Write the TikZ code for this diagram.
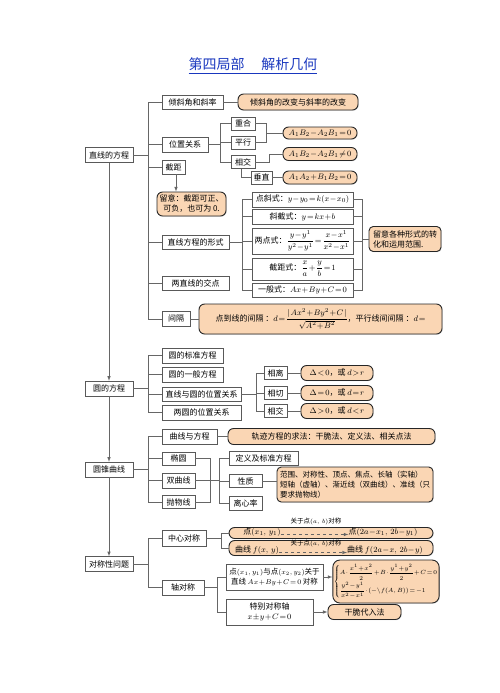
\documentclass[tikz,border=0pt]{standalone}
\usepackage{fontspec}
\setmainfont{Noto Sans CJK SC}
\usepackage{amsmath}
\usepackage{tikz}
\usetikzlibrary{positioning,shadows,arrows}
\definecolor{peach}{RGB}{250,214,180}
\definecolor{titleblue}{RGB}{25,55,190}
\newcommand{\boxfont}{\fontsize{8}{10}\selectfont}
\newcommand{\notefont}{\fontsize{7.5}{10.3}\selectfont}
\newcommand{\tinyfont}{\fontsize{6.5}{8}\selectfont}
\AtBeginDocument{\medmuskip=1mu plus 1mu\thickmuskip=2mu plus 1mu}

\begin{document}
\begin{tikzpicture}[x=1pt, y=-1pt,
	box/.style={rectangle, draw=black!65, fill=white, drop shadow={shadow xshift=.7pt, shadow yshift=-.7pt, opacity=.35},
		inner xsep=2pt, inner ysep=1pt, minimum height=14pt, text centered, font=\boxfont},
	col/.style={box, minimum width=48pt, minimum height=15pt},
	note/.style={rectangle, rounded corners=2mm, draw=black!85, line width=.9pt, fill=peach, drop shadow={shadow xshift=.7pt, shadow yshift=-.7pt, opacity=.35},
		inner xsep=2pt, inner ysep=1pt, minimum height=14pt, text centered, font=\boxfont},
	link/.style={draw=black!60, line width=.6pt},
	arr/.style={link, -latex},
	]
	\useasboundingbox (0,0) rectangle (500,693);
	\node (t) at (253,66) [text=titleblue, font=\fontsize{14}{16}\selectfont] {\underline{第四局部\hspace{1.2em}解析几何}};

	% main column
	\node (a) at (109,155) [col] {直线的方程};
	\node (b) at (109,388.5) [col] {圆的方程};
	\node (c) at (109,469.5) [col] {圆锥曲线};
	\node (d) at (109,564) [col] {对称性问题};
	\draw[arr] (a) -- (b);
	\draw[arr] (b) -- (c);
	\draw[arr] (c) -- (d);
	\coordinate (s1) at (148,0);

	% line equations
	\node (a1) at (192.5,102) [box, minimum width=61pt] {倾斜角和斜率};
	\node (a2) at (185,144.5) [box, minimum width=46pt, minimum height=15pt] {位置关系};
	\node (a3) at (173.5,167) [box, minimum width=23pt] {截距};
	\node (a4) at (195.5,242) [box, minimum width=67pt] {直线方程的形式};
	\node (a5) at (195.5,283) [box, minimum width=67pt] {两直线的交点};
	\node (a6) at (176,319) [box, minimum width=28pt, minimum height=15pt] {间隔};
	\draw[link] (a) -- (a -| s1);
	\draw[link] (a1.west) -| (s1 |- a6.west) -- (a6.west);
	\foreach \k in {2,...,5} \draw[link] (s1 |- a\k.west) -- (a\k.west);

	\node (a1n) at (298,102) [note, minimum width=120pt, minimum height=16pt] {倾斜角的改变与斜率的改变};
	\draw[link] (a1) -- (a1n);
	\node (a3n) at (191.5,204) [note, minimum width=69pt, minimum height=24pt, align=center, inner xsep=1pt] {留意：截距可正、\\可负，也可为 0.};
	\draw[arr] ([xshift=2.5pt]a3.south) -- ([xshift=2.5pt]a3.south |- a3n.north);
	\node (a6n) at (320.5,319) [note, minimum width=243pt, minimum height=30pt]
		{点到线的间隔 ：$d=\dfrac{|\;Ax^2+By^2+C\;|}{\sqrt{A^2+B^2}}$，平行线间间隔 ：$d=$};
	\draw[link] (a6) -- (a6n);

	% position
	\node (a21) at (243,123.5) [box, minimum width=24pt, minimum height=13pt] {重合};
	\node (a22) at (243,142.5) [box, minimum width=24pt, minimum height=13pt] {平行};
	\node (a23) at (243,162) [box, minimum width=24pt, minimum height=13pt] {相交};
	\node (a24) at (261.5,177.5) [box, minimum width=21pt, minimum height=13pt] {垂直};
	\coordinate (s2) at (220,0);
	\coordinate (s3) at (266,0);
	\coordinate (s4) at (269,0);
	\draw[link] (a2) -- (a2 -| s2);
	\draw[link] (a21.west) -| (s2 |- a23.west) -- (a23.west);
	\draw[link] (s2 |- a22.west) -- (a22.west);
	\node (e1) at (320,133) [note, minimum width=74pt, minimum height=12pt] {$A_1B_2-A_2B_1=0$};
	\node (e2) at (320,154) [note, minimum width=74pt, minimum height=13pt] {$A_1B_2-A_2B_1\neq0$};
	\node (e3) at (320,177.5) [note, minimum width=74pt, minimum height=13pt] {$A_1A_2+B_1B_2=0$};
	\draw[link] (a21.east) -| (s3 |- a22.east) -- (a22.east);
	\draw[link] (s3 |- e1) -- (e1.west);
	\draw[link] (a23.east) -| (s4 |- e2.west) -- (e2.west);
	\draw[link] ([xshift=-2pt]a23.south) |- (a24.west);
	\draw[link] (a24) -- (e3);

	% forms
	\node (f1) at (302.5,199.5) [box, minimum width=101pt, minimum height=15pt] {点斜式：$y-y_0=k(x-x_0)$};
	\node (f2) at (302.5,216.5) [box, minimum width=101pt, minimum height=15pt] {斜截式：$y=kx+b$};
	\node (f3) at (302.5,241) [box, minimum width=101pt, minimum height=26pt] {两点式：$\dfrac{y-y^1}{y^2-y^1}=\dfrac{x-x^1}{x^2-x^1}$};
	\node (f4) at (302.5,269) [box, minimum width=101pt, minimum height=22pt] {截距式：$\dfrac{x}{a}+\dfrac{y}{b}=1$};
	\node (f5) at (302.5,290) [box, minimum width=101pt, minimum height=14pt] {一般式：$Ax+By+C=0$};
	\coordinate (s5) at (242,0);
	\coordinate (s6) at (362,0);
	\draw[link] (a4) -- (a4 -| s5);
	\draw[link] (f1.west) -| (s5 |- f5.west) -- (f5.west);
	\draw[link] (f1.east) -| (s6 |- f5.east) -- (f5.east);
	\foreach \k in {2,3,4} {
		\draw[link] (s5 |- f\k.west) -- (f\k.west);
		\draw[link] (s6 |- f\k.east) -- (f\k.east);
	}
	\node (fn) at (405,239) [note, minimum width=72pt, minimum height=25pt, align=left, inner xsep=1pt, rounded corners=1.5mm] {留意各种形式的转\\化和运用范围.};
	\draw[link] (s6 |- fn) -- (fn.west);

	% circles
	\node (b1) at (192.5,355.5) [box, minimum width=61pt, minimum height=15pt] {圆的标准方程};
	\node (b2) at (192.5,374.5) [box, minimum width=61pt, minimum height=15pt] {圆的一般方程};
	\node (b3) at (201.5,394) [box, minimum width=79pt] {直线与圆的位置关系};
	\node (b4) at (201.5,412.5) [box, minimum width=79pt, minimum height=15pt] {两圆的位置关系};
	\draw[link] (b) -- (b -| s1);
	\draw[link] (b1.west) -| (s1 |- b4.west) -- (b4.west);
	\foreach \k in {2,3} \draw[link] (s1 |- b\k.west) -- (b\k.west);
	\node (b31) at (275.5,373) [box, minimum width=23pt, minimum height=13pt] {相离};
	\node (b32) at (275.5,393) [box, minimum width=23pt, minimum height=13pt] {相切};
	\node (b33) at (275.5,411) [box, minimum width=23pt, minimum height=13pt] {相交};
	\coordinate (s7) at (256,0);
	\draw[link] (b3) -- (b3 -| s7);
	\draw[link] (b31.west) -| (s7 |- b33.west) -- (b33.west);
	\draw[link] (s7 |- b32.west) -- (b32.west);
	\node (g1) at (337,373) [note, minimum width=72pt, minimum height=15pt] {$\Delta<0$，或 $d>r$};
	\node (g2) at (337,393) [note, minimum width=72pt, minimum height=15pt] {$\Delta=0$，或 $d=r$};
	\node (g3) at (337,411) [note, minimum width=72pt, minimum height=15pt] {$\Delta>0$，或 $d<r$};
	\foreach \k in {1,2,3} \draw[link] (b3\k) -- (g\k);

	% conics
	\node (c1) at (189.5,436.5) [box, minimum width=55pt, minimum height=15pt] {曲线与方程};
	\node (c2) at (178.5,458.5) [box, minimum width=33pt, minimum height=13pt] {椭圆};
	\node (c3) at (178.5,480.5) [box, minimum width=33pt, minimum height=15pt] {双曲线};
	\node (c4) at (178.5,502) [box, minimum width=33pt, minimum height=13pt] {抛物线};
	\draw[link] (c) -- (c -| s1);
	\draw[link] (c1.west) -| (s1 |- c4.west) -- (c4.west);
	\foreach \k in {2,3} \draw[link] (s1 |- c\k.west) -- (c\k.west);
	\node (c1n) at (331.5,436.5) [note, minimum width=207pt, minimum height=16pt] {轨迹方程的求法：干脆法、定义法、相关点法};
	\draw[link] (c1) -- (c1n);
	\node (c5) at (263.5,458) [box, minimum width=69pt, minimum height=14pt] {定义及标准方程};
	\node (c6) at (245.5,481) [box, minimum width=33pt, minimum height=13pt] {性质};
	\node (c7) at (245.5,503) [box, minimum width=33pt, minimum height=14pt] {离心率};
	\coordinate (s8) at (210,0);
	\coordinate (s9) at (219,0);
	\draw[link] (c2.east) -| (s8 |- c4.east) -- (c4.east);
	\draw[link] (c3) -- (c3 -| s9);
	\draw[link] (c5.west) -| (s9 |- c7.west) -- (c7.west);
	\draw[link] (s9 |- c6.west) -- (c6.west);
	\node (c6n) at (355,484.5) [note, minimum width=156pt, minimum height=35pt, align=left, inner xsep=1.5pt, rounded corners=1.5mm, font=\notefont]
		{范围、对称性、顶点、焦点、长轴（实轴）\\短轴（虚轴）、渐近线（双曲线）、准线（只\\要求抛物线）};
	\draw[link] (c6) -- (c6.east -| c6n.west);

	% symmetry
	\node (d1) at (184,538.5) [box, minimum width=44pt, minimum height=16pt] {中心对称};
	\node (d2) at (183,587.5) [box, minimum width=42pt, minimum height=15pt] {轴对称};
	\draw[link] (d) -- (d -| s1);
	\draw[link] (d1.west) -| (s1 |- d2.west) -- (d2.west);
	\coordinate (s10) at (221,0);
	\node (d11) at (331,533) [note, minimum width=204pt, minimum height=11pt] {};
	\node (d12) at (331,548) [note, minimum width=204pt, minimum height=15pt] {};
	\draw[link] (d1) -- (d1 -| s10);
	\draw[link] (d11.west) -| (s10 |- d12.west) -- (d12.west);
	\node (p1) at (262,532.5) [font=\boxfont, inner sep=0pt] {点$(x_1,\,y_1)$};
	\node (p2) at (383,532.5) [font=\boxfont, inner sep=0pt] {点$(2a-x_1,\,2b-y_1)$};
	\node (q1) at (316,522) [font=\tinyfont, inner sep=0pt] {关于点$(a,\ b)$对称};
	\draw[arr, dashed] ([yshift=-2pt]p1.east) -- ([yshift=-2pt]p2.west);
	\node (p3) at (257,550) [font=\boxfont, inner sep=0pt] {曲线 $f(x,\,y)$};
	\node (p4) at (385,550) [font=\boxfont, inner sep=0pt] {曲线 $f(2a-x,\,2b-y)$};
	\node (q2) at (316,543.5) [font=\tinyfont, inner sep=0pt] {关于点$(a,\ b)$对称};
	\draw[arr, dashed] ([yshift=-2.5pt]p3.east) -- ([yshift=-2.5pt]p4.west);

	\coordinate (s11) at (217,0);
	\node (d21) at (274.5,577) [box, minimum width=97pt, minimum height=26pt, align=center, inner xsep=1pt, font=\notefont]
		{点$(x_1,y_1)$与点$(x_2,y_2)$关于\\直线 $Ax+By+C=0$ 对称};
	\node (d22) at (269.5,612) [box, minimum width=87pt, minimum height=26pt, align=center] {特别对称轴\\$x\pm y+C=0$};
	\draw[link] (d2) -- (d2 -| s11);
	\draw[link] (d21.west) -| (s11 |- d22.west) -- (d22.west);
	\node (d21n) at (386,581.5) [note, minimum width=104pt, minimum height=43pt, inner xsep=1pt, rounded corners=2.5mm, font=\fontsize{6}{7}\selectfont]
		{$\left\{\begin{array}{@{}l@{}}A\cdot\dfrac{x^1+x^2}{2}+B\cdot\dfrac{y^1+y^2}{2}+C=0\\[5pt]
		\dfrac{y^2-y^1}{x^2-x^1}\cdot(-\backslash f(A,B))=-1\end{array}\right.$};
	\draw[arr] (d21) -- (d21.east -| d21n.west);
	\node (d22n) at (364.5,612) [note, minimum width=73pt, minimum height=15pt] {干脆代入法};
	\draw[arr] (d22) -- (d22n);
\end{tikzpicture}
\end{document}
